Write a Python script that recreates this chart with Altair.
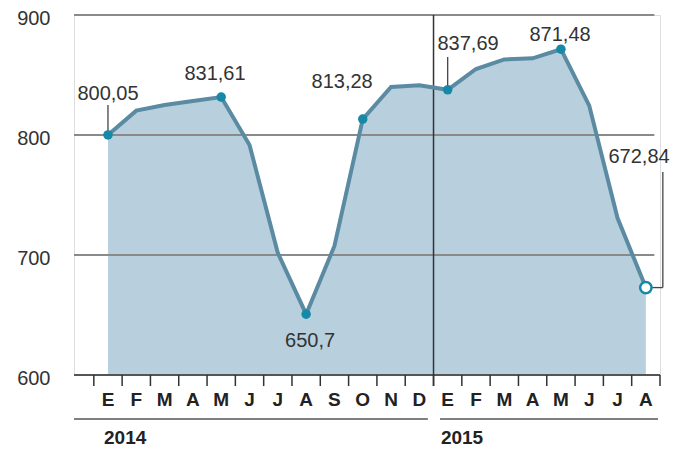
import altair as alt
import pandas as pd

FONT = "Liberation Sans, Arial, sans-serif"

months = ["E", "F", "M", "A", "M", "J", "J", "A", "S", "O", "N", "D",
          "E", "F", "M", "A", "M", "J", "J", "A"]
values = [800.05, 820.3, 825.0, 828.3, 831.61, 791.7, 701.7, 650.7, 707.5, 813.28,
          840.0, 841.5, 837.69, 855.0, 863.0, 863.9, 871.48, 824.5, 730.8, 672.84]
y_ticks = [600, 700, 800, 900]
grid_vals = [700, 800, 900]
marked = [0, 4, 7, 9, 12, 16]
last_idx = 19

ann_text = ["800,05", "831,61", "650,7", "813,28", "837,69", "871,48", "672,84"]
ann_x = [0.0, 3.78, 7.14, 8.27, 12.72, 15.97, 18.76]
ann_y = [829.2, 845.8, 623.3, 839.2, 870.8, 878.3, 776.7]

years = ["2014", "2015"]
year_start = [-1.2, 11.73]
year_end = [11.3, 19.43]
year_label_x = [-0.14, 11.76]

df = pd.DataFrame({"i": list(range(len(months))), "m": months, "v": values})
pts = df[df["i"].isin(marked)]
last = df[df["i"] == last_idx]
ann = pd.DataFrame({"t": ann_text, "x": ann_x, "y": ann_y})
grid = pd.DataFrame({"g": grid_vals})
ticks = pd.DataFrame({"t": [k - 0.5 for k in range(len(months) + 1)]})
yrs = pd.DataFrame({"y": years, "s": year_start, "e": year_end, "lx": year_label_x})

# leader lines
leaders = pd.DataFrame({
    "x": [0.0, 12.0, 19.6, 19.2],
    "x2": [0.0, 12.0, 19.6, 19.6],
    "y": [825.0, 865.0, 769.2, 672.84],
    "y2": [800.05, 837.69, 672.84, 672.84],
})

X = alt.Scale(domain=[-1.2, 19.5], nice=False, zero=False)
Y = alt.Scale(domain=[600, 900], nice=False, zero=False)

base = alt.Chart(df)

area = base.mark_area(color="#b8d0de", opacity=1).encode(
    x=alt.X("i:Q", scale=X, axis=None),
    y=alt.Y("v:Q", scale=Y, axis=alt.Axis(values=y_ticks, domain=False, ticks=False, grid=False,
                                           labelFontSize=20, labelPadding=24, labelColor="#333333",
                                           labelFont=FONT, labelBaseline="middle", labelOffset=3,
                                           title=None)),
    y2=alt.datum(600),
)

gridlines = alt.Chart(grid).mark_rule(color="#8a8a8a", strokeWidth=2).encode(
    y=alt.Y("g:Q", scale=Y),
    x=alt.datum(-1.2, scale=X),
    x2=alt.datum(19.3),
)

baseline = alt.Chart(grid).transform_filter("datum.g == 700").mark_rule(color="#555555", strokeWidth=2).encode(
    y=alt.datum(600, scale=Y),
    x=alt.datum(-1.2, scale=X),
    x2=alt.datum(19.5),
)

tick_marks = alt.Chart(ticks).mark_rule(color="#333333", strokeWidth=1.5).encode(
    x=alt.X("t:Q", scale=X),
    y=alt.datum(600, scale=Y),
    y2=alt.datum(590.8),
)

separator = alt.Chart(grid).transform_filter("datum.g == 700").mark_rule(color="#333333", strokeWidth=1.5).encode(
    x=alt.datum(11.5, scale=X),
    y=alt.datum(900, scale=Y),
    y2=alt.datum(590.8),
)

line = base.mark_line(color="#5b8ba2", strokeWidth=4).encode(
    x=alt.X("i:Q", scale=X),
    y=alt.Y("v:Q", scale=Y),
)

lead = alt.Chart(leaders).mark_rule(color="#444444", strokeWidth=1.3).encode(
    x=alt.X("x:Q", scale=X), x2="x2:Q",
    y=alt.Y("y:Q", scale=Y), y2="y2:Q",
)

dots = alt.Chart(pts).mark_circle(color="#1589a6", size=90, opacity=1).encode(
    x=alt.X("i:Q", scale=X),
    y=alt.Y("v:Q", scale=Y),
)

hollow = alt.Chart(last).mark_point(shape="circle", filled=True, fill="white", stroke="#1589a6",
                                    strokeWidth=2.5, size=130, opacity=1).encode(
    x=alt.X("i:Q", scale=X),
    y=alt.Y("v:Q", scale=Y),
)

labels = alt.Chart(ann).mark_text(font=FONT, fontSize=20, color="#333333", align="center",
                                  baseline="alphabetic").encode(
    x=alt.X("x:Q", scale=X),
    y=alt.Y("y:Q", scale=Y),
    text="t:N",
)

month_labels = base.mark_text(font=FONT, fontSize=19, fontWeight="bold", color="#222222",
                              align="center", baseline="alphabetic").encode(
    x=alt.X("i:Q", scale=X),
    y=alt.datum(574.2, scale=Y),
    text="m:N",
)

year_lines = alt.Chart(yrs).mark_rule(color="#555555", strokeWidth=1.5).encode(
    x=alt.X("s:Q", scale=X), x2="e:Q",
    y=alt.datum(563.3, scale=Y),
)

year_labels = alt.Chart(yrs).mark_text(font=FONT, fontSize=19, fontWeight="bold", color="#222222",
                                       align="left", baseline="alphabetic").encode(
    x=alt.X("lx:Q", scale=X),
    y=alt.datum(542.5, scale=Y),
    text="y:N",
)

chart = alt.layer(
    area, gridlines, baseline, tick_marks, separator, line, lead, dots, hollow,
    labels, month_labels, year_lines, year_labels,
).properties(
    width=586, height=360,
    autosize=alt.AutoSizeParams(type="none"),
    padding={"left": 66, "top": 7, "right": 18, "bottom": 74},
).configure_view(stroke=None).configure(background="white")

chart.save("out.html", embed_options={"renderer": "svg", "actions": False})
